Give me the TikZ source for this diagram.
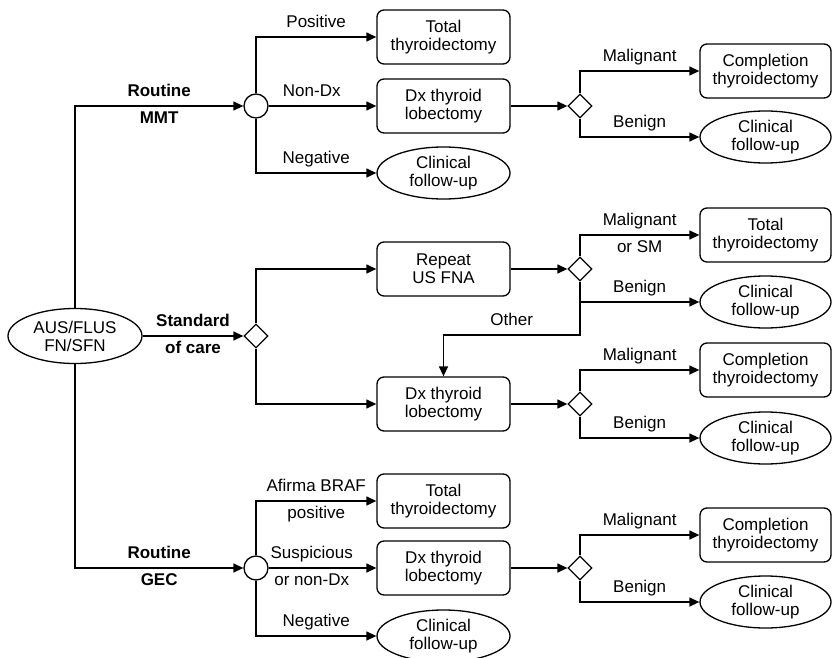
\documentclass[tikz,border=0pt]{standalone}
\usepackage{fontspec}
\setmainfont{Liberation Sans}
\usetikzlibrary{arrows.meta,shapes.geometric,positioning}
\newcommand{\fs}{\fontsize{17}{18}\selectfont}
\tikzset{>={Triangle[length=10pt,width=9pt]}}
\tikzset{
  box/.style={draw, rounded corners=7pt, minimum width=133pt, minimum height=54pt, align=center, inner sep=1pt},
  oval/.style={draw, ellipse, minimum width=133pt, minimum height=52pt, align=center, inner sep=0pt},
  chance/.style={draw, circle, minimum size=24pt, inner sep=0pt},
  choice/.style={draw, diamond, minimum size=24pt, inner sep=0pt},
  lbl/.style={inner sep=5pt, text height=12pt, text depth=3.5pt},
  blbl/.style={lbl, font=\fs\bfseries},
}

\begin{document}
\begin{tikzpicture}[x=1pt,y=-1pt,line width=1.3pt,every node/.style={font=\fs}]
    \useasboundingbox (0,0) rectangle (832,658);

    \node[oval, minimum width=134pt, minimum height=55pt] (start) at (75,336) {AUS/FLUS\\FN/SFN};

    % routine MMT
    \node[chance] (c1) at (256,106) {};
    \node[box] (tot1) at (443.5,37) {Total\\thyroidectomy};
    \node[box] (lob1) at (443.5,106) {Dx thyroid\\lobectomy};
    \node[oval] (fu1) at (443.5,173) {Clinical\\follow-up};
    \node[choice] (d1) at (580,106) {};
    \node[box, minimum width=131pt] (comp1) at (765.5,71) {Completion\\thyroidectomy};
    \node[oval, minimum width=131pt] (fu1b) at (765.5,137) {Clinical\\follow-up};

    % standard of care
    \node[choice] (d0) at (256,336) {};
    \node[box] (rep) at (443.5,269) {Repeat\\US FNA};
    \node[box] (lob2) at (443.5,404) {Dx thyroid\\lobectomy};
    \node[choice] (d2) at (580,269) {};
    \node[box, minimum width=131pt] (tot2) at (765.5,235) {Total\\thyroidectomy};
    \node[oval, minimum width=131pt] (fu2) at (765.5,302) {Clinical\\follow-up};
    \node[choice] (d3) at (580,404) {};
    \node[box, minimum width=131pt] (comp2) at (765.5,370) {Completion\\thyroidectomy};
    \node[oval, minimum width=131pt] (fu3) at (765.5,438) {Clinical\\follow-up};
    \coordinate (oth) at (580,335);

    % routine GEC
    \node[chance] (c2) at (256,568) {};
    \node[box] (tot3) at (443.5,501) {Total\\thyroidectomy};
    \node[box] (lob3) at (443.5,568) {Dx thyroid\\lobectomy};
    \node[oval] (fu4) at (443.5,636) {Clinical\\follow-up};
    \node[choice] (d4) at (580,568) {};
    \node[box, minimum width=131pt] (comp3) at (765.5,535) {Completion\\thyroidectomy};
    \node[oval, minimum width=131pt] (fu5) at (765.5,602) {Clinical\\follow-up};

    \draw[->] (start.north) |- (c1.west) node[blbl, pos=0.75, above] {Routine} node[blbl, pos=0.75, below] {MMT};
    \draw[->] (start.east) -- (d0.west) node[blbl, midway, above] {Standard} node[blbl, midway, below] {of care};
    \draw[->] (start.south) |- (c2.west) node[blbl, pos=0.75, above] {Routine} node[blbl, pos=0.75, below] {GEC};

    \draw[->] (c1.north) |- (tot1.west) node[lbl, pos=0.75, above] {Positive};
    \draw[->] (c1.east) -- (lob1.west) node[lbl, pos=0.4, above] {Non-Dx};
    \draw[->] (c1.south) |- (fu1.west) node[lbl, pos=0.75, above] {Negative};
    \draw[->] (lob1.east) -- (d1.west);
    \draw[->] (d1.north) |- (comp1.west) node[lbl, pos=0.75, above] {Malignant};
    \draw[->] (d1.south) |- (fu1b.west) node[lbl, pos=0.75, above] {Benign};

    \draw[->] (d0.north) |- (rep.west);
    \draw[->] (d0.south) |- (lob2.west);
    \draw[->] (rep.east) -- (d2.west);
    \draw[->] (d2.north) |- (tot2.west) node[lbl, pos=0.75, above] {Malignant} node[lbl, pos=0.75, below] {or SM};
    \draw[->] (d2.south) |- (fu2.west) node[lbl, pos=0.75, above] {Benign};
    \draw[->] (d2.south) -- (oth) -| (lob2.north) node[lbl, pos=0.25, above] {Other};
    \draw[->] (lob2.east) -- (d3.west);
    \draw[->] (d3.north) |- (comp2.west) node[lbl, pos=0.75, above] {Malignant};
    \draw[->] (d3.south) |- (fu3.west) node[lbl, pos=0.75, above] {Benign};

    \draw[->] (c2.north) |- (tot3.west) node[lbl, pos=0.75, above] {Afirma BRAF} node[lbl, pos=0.75, below] {positive};
    \draw[->] (c2.east) -- (lob3.west) node[lbl, pos=0.4, above] {Suspicious} node[lbl, pos=0.4, below] {or non-Dx};
    \draw[->] (c2.south) |- (fu4.west) node[lbl, pos=0.75, above] {Negative};
    \draw[->] (lob3.east) -- (d4.west);
    \draw[->] (d4.north) |- (comp3.west) node[lbl, pos=0.75, above] {Malignant};
    \draw[->] (d4.south) |- (fu5.west) node[lbl, pos=0.75, above] {Benign};
\end{tikzpicture}
\end{document}
